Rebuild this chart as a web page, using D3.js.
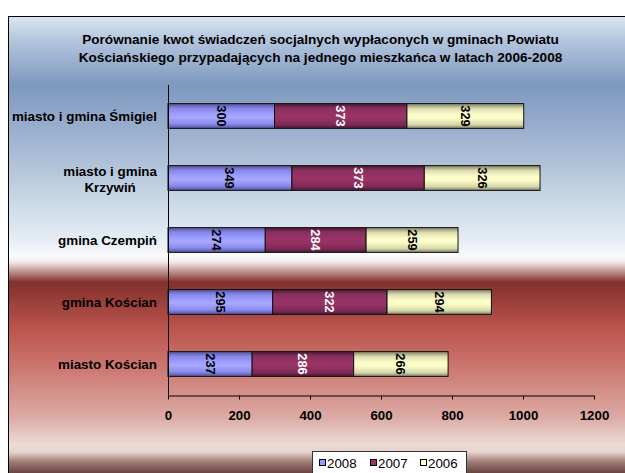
<!DOCTYPE html>
<html><head><meta charset="utf-8">
<script src="https://cdn.jsdelivr.net/npm/d3@7"></script>
<style>body{margin:0;background:#fff}svg{display:block}text{font-family:"Liberation Sans",Arial,sans-serif}</style>
</head><body>
<svg id="c" width="625" height="473"></svg>
<script>
const titleLines = ["Porównanie kwot świadczeń socjalnych wypłaconych w gminach Powiatu",
                    "Kościańskiego przypadających na jednego mieszkańca w latach 2006-2008"];
const categories = ["miasto i gmina Śmigiel", "miasto i gmina\nKrzywiń", "gmina Czempiń", "gmina Kościan", "miasto Kościan"];
const seriesNames = ["2008", "2007", "2006"];
const v2008 = [300, 349, 274, 295, 237];
const v2007 = [373, 373, 284, 322, 286];
const v2006 = [329, 326, 259, 294, 266];
const xTicks = [0, 200, 400, 600, 800, 1000, 1200];

const svg = d3.select("#c");
const defs = svg.append("defs");

// background gradient
const bg = defs.append("linearGradient").attr("id","bg").attr("gradientUnits","userSpaceOnUse")
  .attr("x1",0).attr("x2",0).attr("y1",16).attr("y2",473);
[[16,"#dce7f3"],[40,"#b4c6dd"],[85,"#7e98bf"],[150,"#a7bad4"],[200,"#c9d8e6"],[240,"#e6edf4"],
 [256,"#fafbfc"],[262,"#f2ebea"],[271,"#c29795"],[282,"#83302c"],[330,"#bc554f"],[367,"#cc7670"],
 [417,"#dcaaa4"],[445,"#ecdcd6"],[452,"#e6d4ce"],[462,"#a07a74"],[473,"#6a4440"]]
 .forEach(([y,c])=>bg.append("stop").attr("offset",(y-16)/457).attr("stop-color",c));

svg.append("rect").attr("x",8.5).attr("y",16.5).attr("width",630).attr("height",470)
  .attr("fill","url(#bg)").attr("stroke","#000").attr("stroke-width",1);

// bar gradients
const grads = {
  "2008":[["#4f4f8f",0],["#8585e6",0.18],["#9c9cff",0.4],["#a9a9ff",0.55],["#8a8aee",0.82],["#4f4f8f",1]],
  "2007":[["#4a1832",0],["#85305d",0.18],["#993366",0.45],["#963264",0.6],["#7c2a55",0.85],["#4a1832",1]],
  "2006":[["#7d7d63",0],["#dcdcb0",0.2],["#ffffcc",0.45],["#fbfbc8",0.6],["#d6d6ab",0.85],["#7d7d63",1]]
};
Object.entries(grads).forEach(([k,stops])=>{
  const g = defs.append("linearGradient").attr("id","g"+k).attr("x1",0).attr("x2",0).attr("y1",0).attr("y2",1);
  stops.forEach(([c,o])=>g.append("stop").attr("offset",o).attr("stop-color",c));
});

const x = d3.scaleLinear().domain([0,1200]).range([168,594]);
const y = d3.scaleBand().domain(categories).range([85,395]).paddingInner(0.6).paddingOuter(0.3);

// title
svg.append("g").selectAll("text").data(titleLines).join("text")
  .attr("x",320.5).attr("y",(d,i)=>44+i*18).attr("text-anchor","middle")
  .attr("font-weight","bold").attr("font-size",13.6).attr("fill","#000").text(d=>d);

// bars
const series = [v2008, v2007, v2006];
const labelColors = ["#000","#fff","#000"];
const data = [];
categories.forEach((c,i)=>{
  let acc = 0;
  series.forEach((s,j)=>{ data.push({cat:c, s:seriesNames[j], j, x0:acc, x1:acc+s[i], v:s[i]}); acc += s[i]; });
});
const gb = svg.append("g");
gb.selectAll("rect").data(data).join("rect")
  .attr("x",d=>x(d.x0)).attr("y",d=>y(d.cat)).attr("width",d=>x(d.x1)-x(d.x0)).attr("height",y.bandwidth())
  .attr("fill",d=>"url(#g"+d.s+")").attr("stroke","#111").attr("stroke-width",1);
gb.selectAll("text").data(data).join("text")
  .attr("transform",d=>`translate(${(x(d.x0)+x(d.x1))/2},${y(d.cat)+y.bandwidth()/2}) rotate(90)`)
  .attr("text-anchor","middle").attr("dy","0.35em").attr("font-weight","bold").attr("font-size",12.8)
  .attr("fill",d=>labelColors[d.j]).text(d=>d.v);

// y axis line + category labels
svg.append("line").attr("x1",168.5).attr("x2",168.5).attr("y1",85).attr("y2",395).attr("stroke","#000");
const cl = svg.append("g").selectAll("text").data(categories).join("text")
  .attr("font-weight","bold").attr("font-size",13.4).attr("fill","#000");
cl.each(function(d){
  const lines = d.split("\n");
  const t = d3.select(this);
  const cy = y(d)+y.bandwidth()/2;
  if(lines.length===1){
    t.attr("x",157).attr("y",cy).attr("dy","0.35em").attr("text-anchor","end").text(d);
  } else {
    t.attr("text-anchor","middle");
    const tmp = lines.map(l=>t.append("tspan").text(l));
    const w = Math.max(...tmp.map(s=>s.node().getComputedTextLength()));
    const cx = 157 - w/2;
    tmp.forEach((s,i)=>s.attr("x",cx).attr("y",cy+1+(i-(lines.length-1)/2)*16).attr("dy","0.35em"));
  }
});

// x axis
const xa = svg.append("g").attr("transform","translate(0,395.5)")
  .call(d3.axisBottom(x).tickValues(xTicks).tickSize(4).tickSizeOuter(0).tickFormat(d3.format("d")));
xa.select(".domain").attr("stroke","#000");
xa.selectAll(".tick line").attr("stroke","#000");
xa.selectAll(".tick text").attr("font-family","Liberation Sans, Arial, sans-serif").attr("font-weight","bold")
  .attr("font-size",13.3).attr("fill","#000").attr("y",15);

// legend
const lg = svg.append("g");
lg.append("rect").attr("x",312.5).attr("y",451.5).attr("width",154).attr("height",30)
  .attr("fill","#fff").attr("stroke","#333");
const lx = [319, 370, 420];
const lcol = ["#9999ff","#993366","#ffffcc"];
seriesNames.forEach((n,i)=>{
  lg.append("rect").attr("x",lx[i]+0.5).attr("y",459.5).attr("width",6).attr("height",6)
    .attr("fill",lcol[i]).attr("stroke","#000");
  lg.append("text").attr("x",lx[i]+8).attr("y",467.5).attr("font-size",13.3).attr("fill","#000").text(n);
});
</script>
</body></html>
